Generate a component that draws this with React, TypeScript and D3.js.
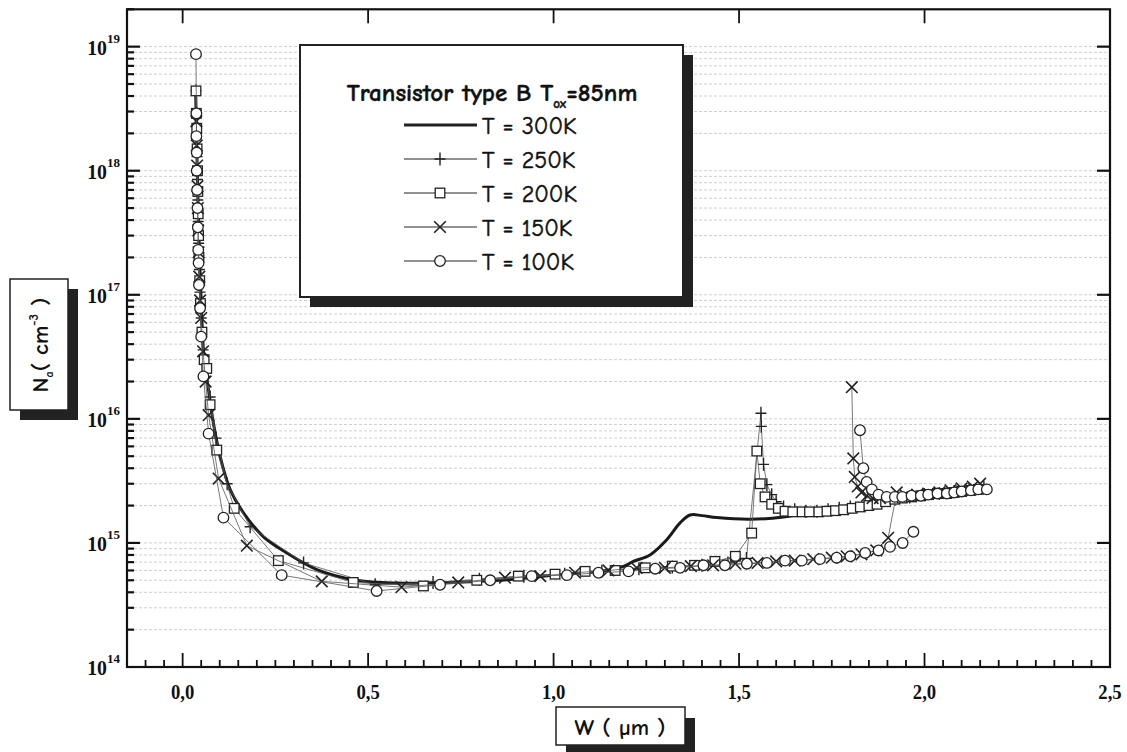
import React from 'react';
import * as d3 from 'd3';

type P = [number, number];

const xTickValues = [0, 0.5, 1, 1.5, 2, 2.5];
const xTickLabels = ['0,0', '0,5', '1,0', '1,5', '2,0', '2,5'];
const yDecades = [14, 15, 16, 17, 18, 19];
const legendLabels = ['T = 300K', 'T = 250K', 'T = 200K', 'T = 150K', 'T = 100K'];

const t300: P[] = [
  [0.035, 4.5e18], [0.038, 1.6e18], [0.041, 6.3e17], [0.045, 2.2e17], [0.05, 8.9e16], [0.056, 3.6e16],
  [0.063, 2.4e16], [0.07, 1.7e16], [0.083, 9.2e15], [0.101, 5.0e15], [0.128, 2.7e15], [0.164, 1.75e15],
  [0.218, 1.12e15], [0.281, 8.3e14], [0.362, 6.1e14], [0.47, 5.0e14], [0.577, 4.75e14], [0.7, 4.8e14],
  [0.856, 5.0e14], [1.0, 5.5e14], [1.125, 5.9e14], [1.19, 6.5e14], [1.215, 7.1e14], [1.26, 8.0e14],
  [1.305, 1.06e15], [1.341, 1.45e15], [1.368, 1.68e15], [1.4, 1.66e15], [1.44, 1.6e15], [1.53, 1.55e15],
  [1.62, 1.62e15], [1.754, 1.9e15], [1.934, 2.3e15], [2.158, 2.75e15],
];

const t250: P[] = [
  [0.036, 4.4e18], [0.037, 3.0e18], [0.038, 2.0e18], [0.039, 1.3e18], [0.04, 8.5e17], [0.041, 5.8e17],
  [0.042, 3.9e17], [0.043, 2.6e17], [0.045, 1.6e17], [0.047, 1.05e17], [0.05, 6.5e16], [0.055, 3.6e16],
  [0.062, 2.2e16], [0.074, 1.5e16], [0.09, 7.0e15], [0.12, 3.0e15], [0.182, 1.35e15], [0.326, 6.9e14],
  [0.519, 4.6e14], [0.675, 4.8e14], [0.8, 5.1e14], [0.92, 5.4e14], [1.03, 5.6e14], [1.13, 5.9e14],
  [1.23, 6.2e14], [1.32, 6.4e14], [1.4, 6.6e14], [1.47, 6.9e14], [1.52, 7.5e14], [1.559, 1.11e16],
  [1.56, 8.7e15], [1.566, 4.3e15], [1.575, 2.95e15], [1.588, 2.45e15], [1.6, 2.15e15], [1.62, 1.95e15],
  [1.65, 1.85e15], [1.68, 1.8e15], [1.71, 1.8e15], [1.74, 1.85e15], [1.77, 1.9e15], [1.8, 1.95e15],
  [1.84, 2.05e15], [1.88, 2.15e15], [1.92, 2.25e15], [1.96, 2.35e15], [2.0, 2.45e15], [2.04, 2.5e15],
  [2.08, 2.6e15], [2.12, 2.7e15], [2.16, 2.8e15],
];

const t200: P[] = [
  [0.036, 4.4e18], [0.037, 2.9e18], [0.038, 2.2e18], [0.039, 1.5e18], [0.04, 1.0e18], [0.041, 6.8e17],
  [0.042, 4.5e17], [0.043, 3.0e17], [0.044, 2.0e17], [0.046, 1.3e17], [0.048, 8.5e16], [0.052, 5.0e16],
  [0.058, 3.0e16], [0.065, 2.55e16], [0.074, 1.3e16], [0.092, 5.6e15], [0.139, 1.9e15], [0.258, 7.2e14],
  [0.46, 4.8e14], [0.649, 4.5e14], [0.793, 5.0e14], [0.905, 5.4e14], [1.004, 5.6e14], [1.085, 5.9e14],
  [1.166, 6.0e14], [1.247, 6.3e14], [1.32, 6.5e14], [1.38, 6.6e14], [1.435, 7.1e14], [1.49, 7.8e14],
  [1.534, 1.2e15], [1.548, 5.5e15], [1.557, 3.0e15], [1.57, 2.35e15], [1.588, 2.05e15], [1.606, 1.9e15],
  [1.624, 1.8e15], [1.645, 1.78e15], [1.67, 1.78e15], [1.69, 1.78e15], [1.715, 1.78e15], [1.737, 1.8e15],
  [1.76, 1.82e15], [1.782, 1.85e15], [1.805, 1.9e15], [1.827, 1.95e15], [1.85, 2.0e15], [1.872, 2.05e15],
  [1.895, 2.15e15], [1.92, 2.25e15], [1.94, 2.3e15], [1.965, 2.35e15], [1.99, 2.4e15], [2.01, 2.45e15],
  [2.035, 2.5e15], [2.06, 2.5e15], [2.08, 2.55e15], [2.1, 2.6e15], [2.125, 2.65e15], [2.145, 2.7e15],
];

const t150: P[] = [
  [0.037, 2.5e18], [0.038, 1.6e18], [0.039, 1.1e18], [0.04, 7.5e17], [0.041, 5.0e17], [0.042, 3.3e17],
  [0.043, 2.2e17], [0.045, 1.4e17], [0.047, 9.0e16], [0.05, 6.5e16], [0.055, 3.5e16], [0.062, 2.0e16],
  [0.07, 1.07e16], [0.097, 3.3e15], [0.173, 9.5e14], [0.375, 4.9e14], [0.59, 4.4e14], [0.743, 4.8e14],
  [0.869, 5.25e14], [0.964, 5.4e14], [1.058, 5.75e14], [1.148, 6.0e14], [1.224, 6.3e14], [1.3, 6.3e14],
  [1.37, 6.5e14], [1.43, 6.6e14], [1.49, 6.8e14], [1.55, 6.9e14], [1.6, 7.1e14], [1.65, 7.2e14],
  [1.7, 7.4e14], [1.75, 7.6e14], [1.79, 7.8e14], [1.83, 8.1e14], [1.87, 8.7e14], [1.902, 1.1e15],
  [1.925, 2.55e15],
];
const t150Spike: P[] = [
  [1.804, 1.8e16], [1.808, 4.8e15], [1.812, 3.4e15], [1.82, 2.85e15], [1.83, 2.55e15], [1.845, 2.4e15],
  [1.86, 2.3e15], [1.88, 2.3e15], [1.95, 2.4e15], [1.98, 2.45e15], [2.01, 2.5e15], [2.04, 2.55e15],
  [2.07, 2.65e15], [2.1, 2.75e15], [2.13, 2.85e15], [2.15, 3.0e15],
];

const t100: P[] = [
  [0.036, 8.7e18], [0.037, 2.9e18], [0.037, 1.9e18], [0.038, 1.4e18], [0.038, 1.0e18], [0.039, 7.0e17],
  [0.04, 5.0e17], [0.041, 3.5e17], [0.042, 2.3e17], [0.043, 1.8e17], [0.044, 1.2e17], [0.047, 7.8e16],
  [0.05, 4.6e16], [0.056, 2.2e16], [0.07, 7.6e15], [0.11, 1.6e15], [0.267, 5.5e14], [0.523, 4.1e14],
  [0.694, 4.6e14], [0.829, 5.0e14], [0.941, 5.4e14], [1.036, 5.5e14], [1.121, 5.75e14], [1.202, 5.9e14],
  [1.274, 6.2e14], [1.341, 6.3e14], [1.404, 6.6e14], [1.462, 6.6e14], [1.521, 6.8e14], [1.575, 6.9e14],
  [1.624, 7.2e14], [1.669, 7.2e14], [1.718, 7.4e14], [1.763, 7.6e14], [1.8, 7.8e14], [1.84, 8.3e14],
  [1.876, 8.7e14], [1.907, 9.3e14], [1.941, 1.0e15], [1.97, 1.23e15],
];
const t100Spike: P[] = [
  [1.826, 8.1e15], [1.835, 4.0e15], [1.844, 3.1e15], [1.858, 2.7e15], [1.876, 2.45e15], [1.898, 2.35e15],
  [1.92, 2.35e15], [1.94, 2.35e15], [1.965, 2.4e15], [1.99, 2.4e15], [2.01, 2.45e15], [2.035, 2.5e15],
  [2.06, 2.5e15], [2.08, 2.55e15], [2.1, 2.6e15], [2.125, 2.65e15], [2.145, 2.7e15], [2.168, 2.7e15],
];

const FRAME = { left: 127, right: 1110, top: 9.3, bottom: 667 };
const x = d3.scaleLinear().domain([-0.15, 2.5]).range([FRAME.left, FRAME.right]);
const y = d3.scaleLog().domain([1e14, 2e19]).range([FRAME.bottom, FRAME.top]);

const COMIC = "'Comic Sans MS', 'Comic Neue', 'DejaVu Sans', sans-serif";
const SERIF = "'Liberation Serif', 'Times New Roman', serif";

type Kind = 'none' | 'plus' | 'square' | 'cross' | 'circle';

function Marker({ kind, cx, cy }: { kind: Kind; cx: number; cy: number }) {
  const s = '#222';
  if (kind === 'circle') return <circle cx={cx} cy={cy} r={5.3} fill="#fff" stroke={s} strokeWidth={1.3} />;
  if (kind === 'square') return <rect x={cx - 4.8} y={cy - 4.8} width={9.6} height={9.6} fill="#fff" stroke={s} strokeWidth={1.3} />;
  if (kind === 'cross')
    return <path d={`M${cx - 5.8},${cy - 5.8}L${cx + 5.8},${cy + 5.8}M${cx - 5.8},${cy + 5.8}L${cx + 5.8},${cy - 5.8}`} stroke={s} strokeWidth={1.6} fill="none" />;
  if (kind === 'plus')
    return <path d={`M${cx - 5.5},${cy}L${cx + 5.5},${cy}M${cx},${cy - 6.5}L${cx},${cy + 6.5}`} stroke={s} strokeWidth={1.4} fill="none" />;
  return null;
}

const line = d3.line<P>().x((d) => x(d[0])).y((d) => y(d[1]));
const smoothLine = d3.line<P>().x((d) => x(d[0])).y((d) => y(d[1])).curve(d3.curveCatmullRom.alpha(0.5));

function Series({ segs, kind }: { segs: P[][]; kind: Kind }) {
  return (
    <g>
      {segs.map((s, i) => (
        <path key={'l' + i} d={line(s) || ''} fill="none" stroke="#555" strokeWidth={0.8} />
      ))}
      {segs.map((s, i) =>
        s.map((d, j) => <Marker key={`m${i}-${j}`} kind={kind} cx={x(d[0])} cy={y(d[1])} />)
      )}
    </g>
  );
}

export default function App() {
  const gridVals: number[] = [];
  yDecades.forEach((e) => {
    for (let k = 1; k <= 9; k++) {
      const v = k * Math.pow(10, e);
      if (v > 1e14 && v <= 2e19) gridVals.push(v);
    }
  });
  const minorX: number[] = d3.range(-0.1, 2.5, 0.05).map((v) => Math.round(v * 100) / 100);

  const legendRows: { label: string; kind: Kind }[] = [
    { label: legendLabels[0], kind: 'none' },
    { label: legendLabels[1], kind: 'plus' },
    { label: legendLabels[2], kind: 'square' },
    { label: legendLabels[3], kind: 'cross' },
    { label: legendLabels[4], kind: 'circle' },
  ];
  const legendY = [125, 159, 193, 227, 261];

  return (
    <svg width={1127} height={752} style={{ display: 'block', position: 'absolute', left: 0, top: 0, background: '#fff' }}>
      <rect x={0} y={0} width={1127} height={752} fill="#fff" />
      {/* grid */}
      {gridVals.map((v, i) => (
        <line key={'g' + i} x1={FRAME.left + 2} x2={FRAME.right - 2} y1={y(v)} y2={y(v)} stroke="#cfcfcf" strokeWidth={1} strokeDasharray="3,2" />
      ))}

      {/* data */}
      <path d={smoothLine(t300) || ''} fill="none" stroke="#1a1a1a" strokeWidth={3} />
      <Series segs={[t250]} kind="plus" />
      <Series segs={[t200]} kind="square" />
      <Series segs={[t150, t150Spike]} kind="cross" />
      <Series segs={[t100, t100Spike]} kind="circle" />

      {/* frame */}
      <rect x={FRAME.left} y={FRAME.top} width={FRAME.right - FRAME.left} height={FRAME.bottom - FRAME.top} fill="none" stroke="#111" strokeWidth={2.2} />

      {/* left axis ticks */}
      {gridVals.map((v, i) => {
        const major = Math.abs(Math.log10(v) - Math.round(Math.log10(v))) < 1e-9;
        return <line key={'yt' + i} x1={FRAME.left} x2={FRAME.left + (major ? 13 : 7)} y1={y(v)} y2={y(v)} stroke="#111" strokeWidth={2.2} />;
      })}
      {/* right axis ticks */}
      {yDecades.slice(1).map((e) => (
        <line key={'yr' + e} x1={FRAME.right} x2={FRAME.right - 13} y1={y(Math.pow(10, e))} y2={y(Math.pow(10, e))} stroke="#111" strokeWidth={2.2} />
      ))}
      {/* bottom ticks */}
      {minorX.map((v, i) => {
        const major = Math.abs(v * 2 - Math.round(v * 2)) < 1e-6;
        return <line key={'xt' + i} x1={x(v)} x2={x(v)} y1={FRAME.bottom} y2={FRAME.bottom - (major ? 14 : 7)} stroke="#111" strokeWidth={1.8} />;
      })}
      {/* top ticks */}
      {xTickValues.slice(0, 5).map((v) => (
        <line key={'xtt' + v} x1={x(v)} x2={x(v)} y1={FRAME.top} y2={FRAME.top + 14} stroke="#111" strokeWidth={1.8} />
      ))}

      {/* x tick labels */}
      {xTickValues.map((v, i) => (
        <text key={'xl' + i} transform={`translate(${x(v)},699) scale(0.85,1)`} textAnchor="middle" fontFamily={SERIF} fontWeight="bold" fontSize={22} fill="#111">
          {xTickLabels[i]}
        </text>
      ))}
      {/* y tick labels */}
      {yDecades.map((e) => (
        <g key={'yl' + e}>
          <text transform={`translate(107,${y(Math.pow(10, e)) + 8}) scale(0.9,1)`} textAnchor="end" fontFamily={SERIF} fontWeight="bold" fontSize={22} fill="#111">10</text>
          <text x={107} y={y(Math.pow(10, e)) - 4} textAnchor="start" fontFamily={SERIF} fontWeight="bold" fontSize={13} fill="#111">{e}</text>
        </g>
      ))}

      {/* y title box */}
      <rect x={20} y={289} width={58} height={131} fill="#222" />
      <rect x={10} y={279} width={58} height={131} fill="#fff" stroke="#222" strokeWidth={1.5} />
      <text transform="translate(48,345) rotate(-90)" textAnchor="middle" fontFamily={COMIC} fontWeight="bold" fontSize={23} fill="#111">
        N<tspan fontSize={12} dy={5}>a</tspan><tspan dy={-5}>( cm</tspan><tspan fontSize={13} dy={-10}>-3</tspan><tspan dy={10}> )</tspan>
      </text>

      {/* x title box */}
      <rect x={566} y={718} width={129} height={40} fill="#222" />
      <rect x={556} y={707} width={129} height={38} fill="#fff" stroke="#222" strokeWidth={1.5} />
      <text x={620} y={735} textAnchor="middle" fontFamily={COMIC} fontWeight="bold" fontSize={23} fill="#111">W ( µm )</text>

      {/* legend */}
      <rect x={310} y={55} width={383} height={252} fill="#222" />
      <rect x={300} y={45} width={383} height={252} fill="#fff" stroke="#222" strokeWidth={2} />
      <text x={492} y={101} textAnchor="middle" fontFamily={COMIC} fontWeight="bold" fontSize={25} fill="#111" stroke="#111" strokeWidth={0.4}>
        Transistor type B T<tspan fontSize={13} dy={7}>ox</tspan><tspan dy={-7}>=85nm</tspan>
      </text>
      {legendRows.map((r, i) => (
        <g key={'lg' + i}>
          <line x1={404} x2={477} y1={legendY[i]} y2={legendY[i]} stroke="#222" strokeWidth={r.kind === 'none' ? 3 : 1} />
          <Marker kind={r.kind} cx={440} cy={legendY[i]} />
          <text x={482} y={legendY[i] + 9} fontFamily={COMIC} fontSize={24} fill="#111" stroke="#111" strokeWidth={0.5}>{r.label}</text>
        </g>
      ))}
    </svg>
  );
}
